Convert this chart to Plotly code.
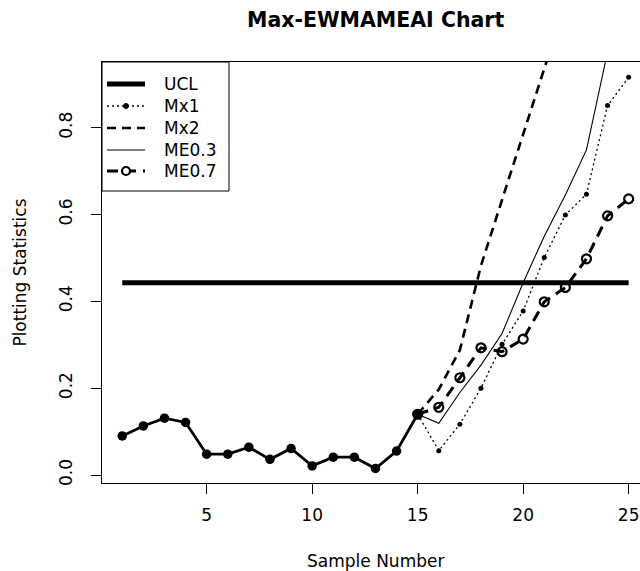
import plotly.graph_objects as go

# ---- data ----
samples_phase1 = list(range(1, 16))
phase1 = [0.090, 0.113, 0.131, 0.121, 0.048, 0.048, 0.064, 0.036, 0.061,
          0.021, 0.041, 0.041, 0.015, 0.055, 0.140]
samples_phase2 = list(range(15, 26))
mx1 = [0.140, 0.056, 0.117, 0.200, 0.301, 0.378, 0.501, 0.599, 0.647, 0.851, 0.916]
mx2 = [0.140, 0.197, 0.288, 0.482, 0.634, 0.785, 0.937, 1.09, 1.24, 1.39, 1.54]
me03 = [0.140, 0.119, 0.190, 0.253, 0.326, 0.443, 0.550, 0.645, 0.749, 0.990, 1.200]
me07 = [0.140, 0.156, 0.224, 0.293, 0.284, 0.313, 0.399, 0.432, 0.498, 0.597, 0.636]
ucl_x = [1, 25]
ucl = 0.443
x_ticks = [5, 10, 15, 20, 25]
y_ticks = [0.0, 0.2, 0.4, 0.6, 0.8]
y_ticktext = ["0.0", "0.2", "0.4", "0.6", "0.8"]
legend_labels = ["UCL", "Mx1", "Mx2", "ME0.3", "ME0.7"]

FONT = "DejaVu Sans, Liberation Sans, Arial, sans-serif"
FS = 17
W, H = 640, 571
L, R, T, B = 102, 0, 62, 88
PW, PH = W - L - R, H - T - B


def px(xp):
    return (xp - L) / PW


def py(yp):
    return (H - B - yp) / PH


fig = go.Figure()

# UCL
fig.add_trace(go.Scatter(x=ucl_x, y=[ucl, ucl], mode="lines",
                         line=dict(color="black", width=5), showlegend=False))
# Phase 1
fig.add_trace(go.Scatter(x=samples_phase1, y=phase1, mode="lines+markers",
                         line=dict(color="black", width=2.8),
                         marker=dict(color="black", size=9.5, symbol="circle"),
                         showlegend=False))
# Mx1
fig.add_trace(go.Scatter(x=samples_phase2, y=mx1, mode="lines+markers",
                         line=dict(color="black", width=1.3, dash="2px,3px"),
                         marker=dict(color="black", size=5),
                         showlegend=False, cliponaxis=True))
# Mx2
fig.add_trace(go.Scatter(x=samples_phase2, y=mx2, mode="lines",
                         line=dict(color="black", width=2.6, dash="9px,6px"),
                         showlegend=False))
# ME0.3
fig.add_trace(go.Scatter(x=samples_phase2, y=me03, mode="lines",
                         line=dict(color="black", width=1.1),
                         showlegend=False))
# ME0.7
fig.add_trace(go.Scatter(x=samples_phase2, y=me07, mode="lines+markers",
                         line=dict(color="black", width=3, dash="11px,7px"),
                         marker=dict(color="black", size=9, symbol="circle-open",
                                     line=dict(width=2.2, color="black")),
                         showlegend=False))
# phase1 point at 15 on top
fig.add_trace(go.Scatter(x=samples_phase1[-1:], y=phase1[-1:], mode="markers",
                         marker=dict(color="black", size=9.5), showlegend=False))

# ---- manual legend (R style) ----
shapes = []
annotations = []
shapes.append(dict(type="rect", xref="paper", yref="paper",
                   x0=px(102), x1=px(229), y0=py(191), y1=py(62),
                   line=dict(color="black", width=1), fillcolor="white", layer="above"))
rows = [84, 106, 128, 150, 171]
x0s, x1s = 107, 145
styles = [dict(width=5), dict(width=1.3, dash="2px,3px"), dict(width=2.6, dash="9px,6px"),
          dict(width=1.1), dict(width=3, dash="11px,7px")]
for r, st, lab in zip(rows, styles, legend_labels):
    shapes.append(dict(type="line", xref="paper", yref="paper",
                       x0=px(x0s), x1=px(x1s), y0=py(r), y1=py(r),
                       line=dict(color="black", **st), layer="above"))
    annotations.append(dict(text=lab, xref="paper", yref="paper", x=px(162), y=py(r),
                            xanchor="left", yanchor="middle", showarrow=False,
                            font=dict(family=FONT, size=FS, color="black")))
# markers in legend
shapes.append(dict(type="circle", xref="paper", yref="paper",
                   x0=px(123.5), x1=px(128.5), y0=py(rows[1] + 2.5), y1=py(rows[1] - 2.5),
                   line=dict(color="black", width=1), fillcolor="black", layer="above"))
shapes.append(dict(type="circle", xref="paper", yref="paper",
                   x0=px(122), x1=px(130), y0=py(rows[4] + 4), y1=py(rows[4] - 4),
                   line=dict(color="black", width=2.2), fillcolor="white", layer="above"))

# titles
annotations.append(dict(text="<b>Max-EWMAMEAI Chart</b>", xref="x", yref="paper",
                        x=13.0, y=py(19.5), xanchor="center", yanchor="middle",
                        showarrow=False, font=dict(family=FONT, size=20.5, color="black")))
annotations.append(dict(text="Sample Number", xref="x", yref="paper",
                        x=13.0, y=py(561), xanchor="center", yanchor="middle",
                        showarrow=False, font=dict(family=FONT, size=FS, color="black")))
annotations.append(dict(text="Plotting Statistics", xref="paper", yref="paper",
                        x=px(20), y=py(272.6), xanchor="center", yanchor="middle",
                        textangle=-90, showarrow=False,
                        font=dict(family=FONT, size=FS, color="black")))

fig.update_layout(
    width=W, height=H,
    margin=dict(l=L, r=R, t=T, b=B, pad=0),
    paper_bgcolor="white", plot_bgcolor="white",
    showlegend=False,
    shapes=shapes, annotations=annotations,
    font=dict(family=FONT, size=FS, color="black"),
)
fig.update_xaxes(range=[0.04, 0.04 + PW / 21.1], tickvals=x_ticks,
                 showgrid=False, zeroline=False, showline=True, mirror=True,
                 linecolor="black", linewidth=1, ticks="outside", ticklen=10,
                 tickwidth=1, tickcolor="black", ticklabelstandoff=7,
                 tickfont=dict(family=FONT, size=FS, color="black"))
fig.update_yaxes(range=[(475 - (H - B)) / 434.1, (475 - T) / 434.1],
                 tickvals=y_ticks, ticktext=y_ticktext, tickangle=-90,
                 showgrid=False, zeroline=False, showline=True, mirror=False,
                 linecolor="black", linewidth=1, ticks="outside", ticklen=10,
                 tickwidth=1, tickcolor="black", ticklabelstandoff=12,
                 tickfont=dict(family=FONT, size=FS, color="black"))

fig.write_html("out.html")
